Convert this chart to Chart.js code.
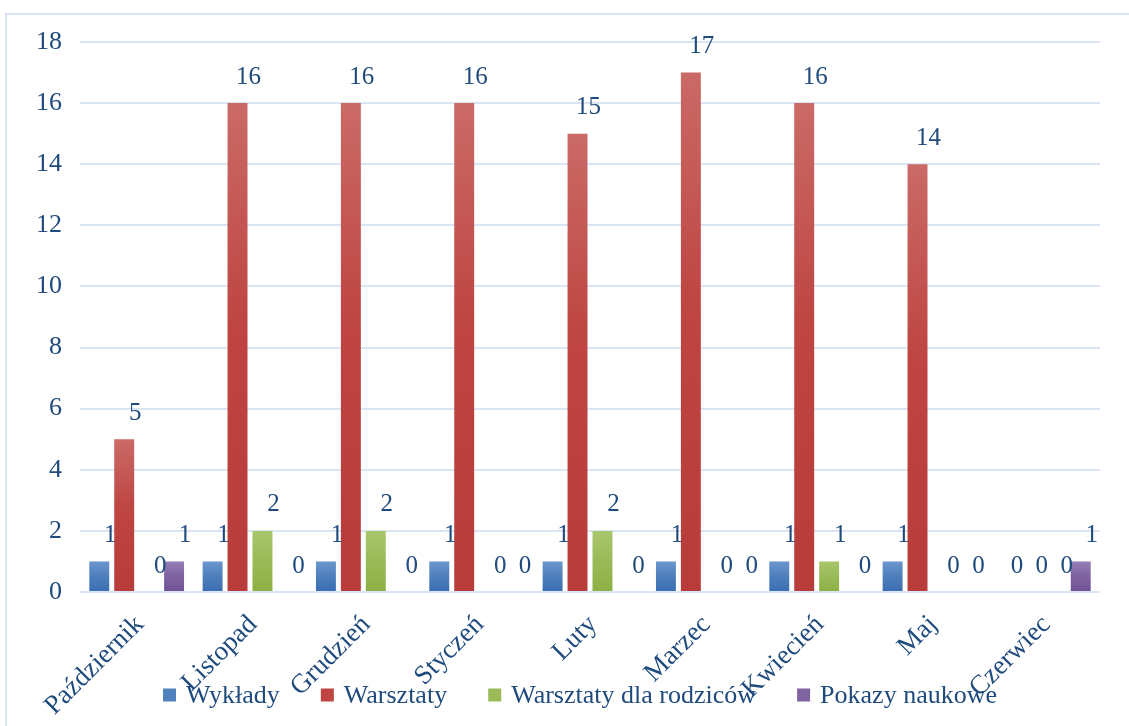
<!DOCTYPE html>
<html><head><meta charset="utf-8">
<script src="https://cdn.jsdelivr.net/npm/chart.js@4/dist/chart.umd.min.js"></script>
<style>
html,body{margin:0;padding:0;background:#fff;overflow:hidden}
#wrap{position:relative;width:1129px;height:726px;overflow:hidden}
#frame{position:absolute;left:5px;top:13px;width:1300px;height:900px;border-left:2px solid #DAE5F3;border-top:2px solid #DAE5F3}
canvas{position:absolute;left:0;top:0}
</style></head><body>
<div id="wrap"><div id="frame"></div><canvas id="c" width="1129" height="726"></canvas></div>
<script>
const categories = ['Październik','Listopad','Grudzień','Styczeń','Luty','Marzec','Kwiecień','Maj','Czerwiec'];
const seriesNames = ['Wykłady','Warsztaty','Warsztaty dla rodziców','Pokazy naukowe'];
const wyklady = [1,1,1,1,1,1,1,1,0];
const warsztaty = [5,16,16,16,15,17,16,14,0];
const warsztatyRodzice = [0,2,2,0,2,0,1,0,0];
const pokazy = [1,0,0,0,0,0,0,0,1];
const yTickValues = [0,2,4,6,8,10,12,14,16,18];

const TEXT = '#1F4A7D';
const FONT = '"Liberation Serif","Times New Roman",serif';
const palette = [
  {light:'#6C96CE', base:'#4F81BD', dark:'#3A6DB1'},
  {light:'#CA6A66', base:'#BE4542', dark:'#B73C3A'},
  {light:'#A9C66C', base:'#9BBB59', dark:'#8CB043'},
  {light:'#9580B5', base:'#8064A2', dark:'#6E5295'}
];
function grad(p){
  return (c)=>{
    const chart=c.chart;
    if(!chart.chartArea || c.type!=='data' || !chart.scales.y) return p.base;
    const ys=chart.scales.y;
    const top=ys.getPixelForValue(c.raw), bot=ys.getPixelForValue(0);
    if(!(bot-top>0.5)) return p.base;
    const g=chart.ctx.createLinearGradient(0,top,0,bot);
    g.addColorStop(0,p.light); g.addColorStop(0.45,p.base); g.addColorStop(1,p.dark);
    return g;
  };
}
const seriesData=[wyklady,warsztaty,warsztatyRodzice,pokazy];

const valueLabels={
  id:'valueLabels',
  afterDatasetsDraw(chart){
    const ctx=chart.ctx; ctx.save();
    ctx.font='25px '+FONT; ctx.fillStyle=TEXT; ctx.textAlign='center'; ctx.textBaseline='middle';
    chart.data.datasets.forEach((ds,i)=>{
      chart.getDatasetMeta(i).data.forEach((el,j)=>{
        ctx.fillText(String(ds.data[j]), el.x+11, el.y-26);
      });
    });
    ctx.restore();
  }
};
const customLegend={
  id:'customLegend',
  afterDraw(chart){
    const ctx=chart.ctx; ctx.save();
    ctx.font='26px '+FONT; ctx.textBaseline='middle'; ctx.textAlign='left';
    const box=13, gapText=10, cy=695, x0=163, x1=997;
    const widths=seriesNames.map(n=>box+gapText+ctx.measureText(n).width);
    const sum=widths.reduce((a,b)=>a+b,0);
    const gapItem=(x1-x0-sum)/(seriesNames.length-1);
    let x=x0;
    seriesNames.forEach((n,i)=>{
      ctx.fillStyle=palette[i].base;
      ctx.fillRect(x,cy-box/2,box,box);
      ctx.fillStyle=TEXT;
      ctx.fillText(n,x+box+gapText,cy+1);
      x+=widths[i]+gapItem;
    });
    ctx.restore();
  }
};

new Chart(document.getElementById('c'),{
  type:'bar',
  data:{
    labels:categories,
    datasets:seriesNames.map((n,i)=>({
      label:n, data:seriesData[i], backgroundColor:grad(palette[i]),
      barPercentage:0.8, categoryPercentage:0.88, borderWidth:0
    }))
  },
  options:{
    responsive:false, animation:false, devicePixelRatio:1,
    layout:{padding:{top:42,right:29,left:0,bottom:0}},
    plugins:{legend:{display:false},tooltip:{enabled:false}},
    scales:{
      y:{
        min:0,max:18,
        afterBuildTicks:(s)=>{s.ticks=yTickValues.map(v=>({value:v}));},
        ticks:{font:{family:FONT,size:26},color:TEXT,padding:18},
        grid:{color:'#DAE5F3',lineWidth:2,drawTicks:false},
        border:{display:false},
        afterFit:(s)=>{s.width=80;}
      },
      x:{
        grid:{display:false},
        border:{display:false},
        ticks:{font:{family:FONT,size:27},color:TEXT,minRotation:45,maxRotation:45,padding:9,labelOffset:3,autoSkip:false},
        afterFit:(s)=>{s.height=134;}
      }
    }
  },
  plugins:[valueLabels,customLegend]
});
</script>
</body></html>
